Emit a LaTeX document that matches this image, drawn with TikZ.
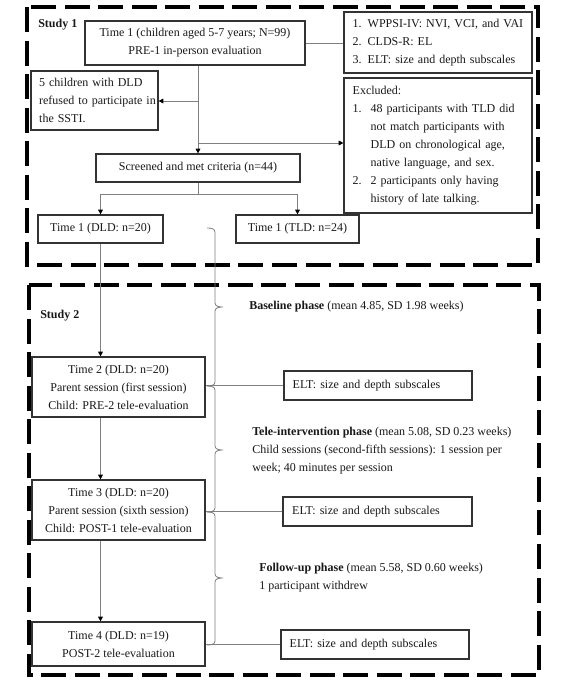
\documentclass[tikz,border=0pt]{standalone}
\usepackage{fontspec}
\setmainfont{Liberation Serif}
\usetikzlibrary{arrows.meta,calc}
\newcommand{\myitem}[1]{\makebox[13.5pt][l]{#1}}
\newcommand{\myind}{\hspace*{13.5pt}}
\begin{document}
\begin{tikzpicture}[x=0.75pt,y=-0.75pt,
  font=\fontsize{9}{13.5}\selectfont,
  box/.style={draw=black!80, line width=0.9pt, inner sep=0pt, align=center, text=black!90},
  lbox/.style={box, align=left},
  conn/.style={draw=black!50, line width=0.6pt},
  arr/.style={conn, -{Triangle[length=3.5pt,width=3.5pt,color=black]}},
  frame/.style={draw=black, line width=3pt, dash pattern=on 18.75pt off 6.4pt},
  lbl/.style={anchor=west, inner sep=0pt, align=left, text=black!90}
]
\useasboundingbox[fill=white] (0,0) rectangle (568,681);

% frames
\draw[frame] (27,7) rectangle (538,265);
\draw[frame] (29,285) rectangle (539,675);
\node[lbl, font=\fontsize{9}{13.5}\selectfont\bfseries] (s1) at (38,25) {Study 1};
\node[lbl, font=\fontsize{9}{13.5}\selectfont\bfseries] (s2) at (40,316) {Study 2};

% Study 1 nodes
\node[box, minimum width=165pt, minimum height=33pt] (top) at (195,43)
  {Time 1 (children aged 5-7 years; N=99)\\PRE-1 in-person evaluation};
\node[lbox, minimum width=141pt, minimum height=45.75pt, text width=128pt] (wp) at (438,42.5)
  {1. WPPSI-IV: NVI, VCI, and VAI\\2. CLDS-R: EL\\3. ELT: size and depth subscales};
\node[lbox, minimum width=141pt, minimum height=101.25pt, text width=128pt] (ex) at (438,145.5)
  {Excluded:\\
   \myitem{1.}48 participants with TLD did\\
   \myind not match participants with\\
   \myind DLD on chronological age,\\
   \myind native language, and sex.\\
   \myitem{2.}2 participants only having\\
   \myind history of late talking.};
\node[lbox, minimum width=95.25pt, minimum height=44.25pt, text width=83pt] (five) at (94.5,100.5)
  {\mbox{5 children with DLD}\\\mbox{refused to participate in}\\\mbox{the SSTI.}};
\node[box, minimum width=153pt, minimum height=21pt] (scr) at (198,168)
  {Screened and met criteria (n=44)};
\node[box, minimum width=93.75pt, minimum height=21pt] (dld) at (100.5,229)
  {Time 1 (DLD: n=20)};
\node[box, minimum width=92.25pt, minimum height=21pt] (tld) at (297.5,229)
  {Time 1 (TLD: n=24)};

% Study 2 nodes
\node[box, minimum width=129.75pt, minimum height=45pt] (t2) at (118.5,387)
  {Time 2 (DLD: n=20)\\Parent session (first session)\\Child: PRE-2 tele-evaluation};
\node[box, minimum width=129.75pt, minimum height=45pt] (t3) at (118.5,510)
  {Time 3 (DLD: n=20)\\Parent session (sixth session)\\Child: POST-1 tele-evaluation};
\node[box, minimum width=129.75pt, minimum height=33pt] (t4) at (118.5,644)
  {Time 4 (DLD: n=19)\\POST-2 tele-evaluation};
\node[lbox, minimum width=141pt, minimum height=21.75pt, text width=128pt] (e1) at (378,385.5)
  {ELT: size and depth subscales};
\node[lbox, minimum width=141.75pt, minimum height=21.75pt, text width=128pt] (e2) at (377.5,511.5)
  {ELT: size and depth subscales};
\node[lbox, minimum width=141pt, minimum height=21.75pt, text width=128pt] (e3) at (375,644.5)
  {ELT: size and depth subscales};

\node[lbl] (base) at (249,307) {\textbf{Baseline phase} (mean 4.85, SD 1.98 weeks)};
\node[lbl] (tele) at (252,450.5) {\textbf{Tele-intervention phase} (mean 5.08, SD 0.23 weeks)\\
  Child sessions (second-fifth sessions): 1 session per\\week; 40 minutes per session};
\node[lbl] (fol) at (259,578) {\textbf{Follow-up phase} (mean 5.58, SD 0.60 weeks)\\1 participant withdrew};

% connectors Study 1
\coordinate (b1) at (198,101);
\coordinate (b2) at (198,143);
\coordinate (b3) at (198,194);
\draw[conn] (top.east) -- (top.east -| wp.west);
\draw[arr] (top.south -| scr.north) -- (scr.north);
\draw[arr] (b1) -- (b1 -| five.east);
\draw[arr] (b2) -- (b2 -| ex.west);
\draw[conn] (scr.south) -- (b3);
\draw[arr] (b3) -| (dld.north);
\draw[arr] (b3) -| (tld.north);

% connectors Study 2
\draw[arr] (dld.south) -- (dld.south |- t2.north);
\draw[arr] (t2.south -| dld.south) -- (t3.north -| dld.south);
\draw[arr] (t3.south -| dld.south) -- (t4.north -| dld.south);

% phase brackets
\coordinate (r0) at (207,228);
\coordinate (r1) at (207,386);
\coordinate (r2) at (207,512);
\coordinate (r3) at (207,645);
\draw[conn] (r0) to[out=0,in=90] (215,232) -- (215,303) to[out=-90,in=180] (223,307)
  to[out=180,in=90] (215,311) -- (215,382) to[out=-90,in=0] (r1);
\draw[conn] (r1) to[out=0,in=90] (215,390) -- (215,446) to[out=-90,in=180] (223,450)
  to[out=180,in=90] (215,454) -- (215,508) to[out=-90,in=0] (r2);
\draw[conn] (r2) to[out=0,in=90] (215,516) -- (215,574) to[out=-90,in=180] (223,578)
  to[out=180,in=90] (215,582) -- (215,641) to[out=-90,in=0] (r3);
\draw[conn] (e1.west) -- (e1.west -| t2.east);
\draw[conn] (e2.west) -- (e2.west -| t3.east);
\draw[conn] (e3.west) -- (e3.west -| t4.east);
\end{tikzpicture}
\end{document}
